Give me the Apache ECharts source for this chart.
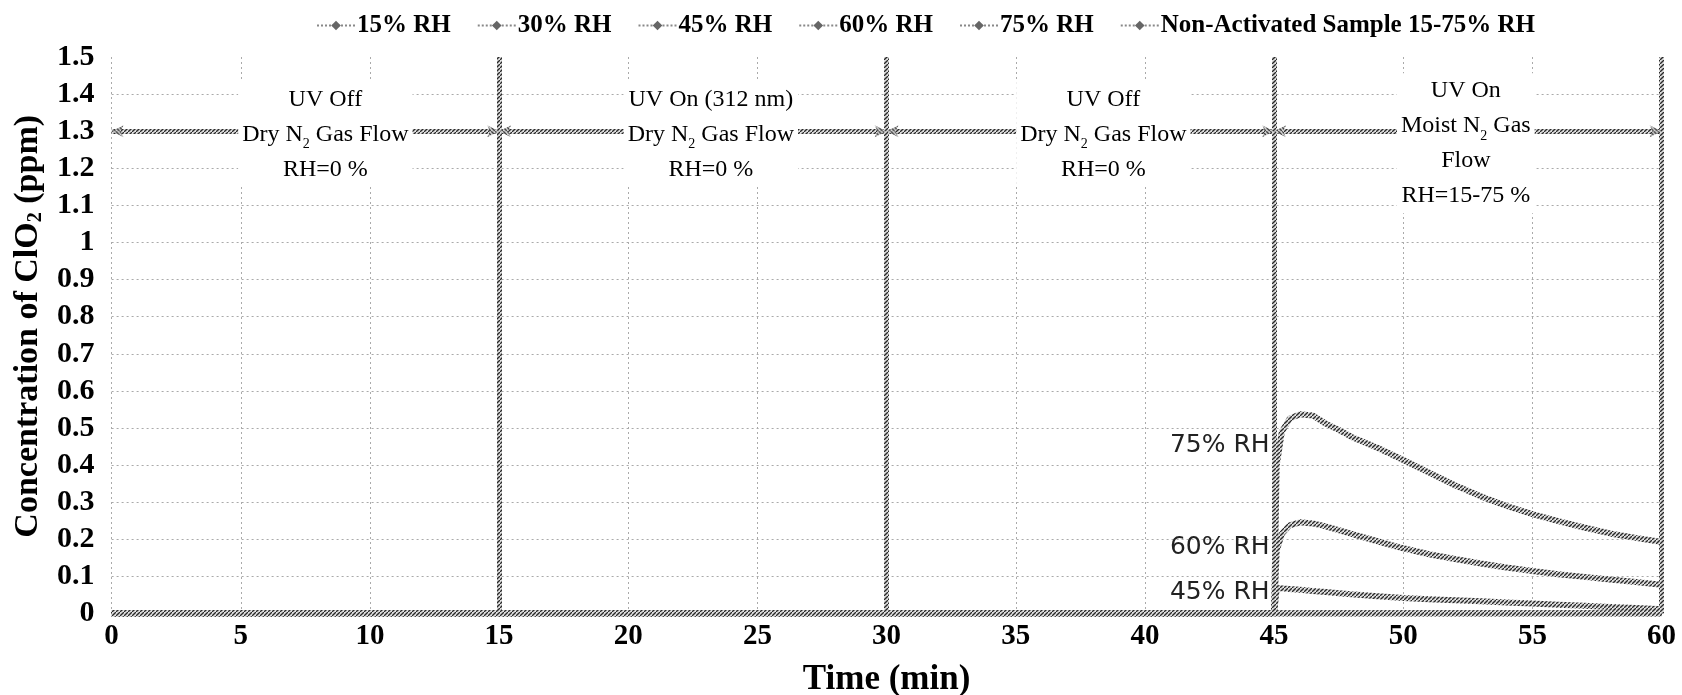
<!DOCTYPE html>
<html><head><meta charset="utf-8">
<script src="https://cdn.jsdelivr.net/npm/echarts@6/dist/echarts.min.js"></script>
<style>html,body{margin:0;padding:0;background:#fff}#c{width:1682px;height:695px}</style>
</head><body><div id="c"></div>
<script>
// ---- data ----
const times = [0, 15, 30, 45, 45.1, 45.3, 45.6, 46, 46.5, 47, 47.5, 48, 49, 50, 51, 52, 53, 54, 55, 56, 57, 58, 59, 60];
const rh15  = [0, 0, 0, 0, 0, 0, 0, 0, 0, 0, 0, 0, 0, 0, 0, 0, 0, 0, 0, 0, 0, 0, 0, 0];
const rh30  = [0, 0, 0, 0, 0, 0, 0, 0, 0, 0, 0, 0, 0, 0, 0, 0, 0, 0, 0, 0, 0, 0, 0, 0];
const rh45  = [0, 0, 0, 0, 0.068, 0.068, 0.066, 0.064, 0.061, 0.058, 0.055, 0.052, 0.047, 0.042, 0.039, 0.036, 0.033, 0.030, 0.027, 0.024, 0.021, 0.018, 0.015, 0.012];
const rh60  = [0, 0, 0, 0, 0.17, 0.215, 0.238, 0.246, 0.243, 0.235, 0.225, 0.215, 0.195, 0.176, 0.160, 0.147, 0.135, 0.124, 0.115, 0.106, 0.099, 0.092, 0.085, 0.078];
const rh75  = [0, 0, 0, 0, 0.40, 0.49, 0.525, 0.537, 0.534, 0.512, 0.495, 0.476, 0.447, 0.414, 0.38, 0.346, 0.316, 0.29, 0.268, 0.249, 0.232, 0.216, 0.204, 0.193];
const nonActivated = [0, 0, 0, 0, 0, 0, 0, 0, 0, 0, 0, 0, 0, 0, 0, 0, 0, 0, 0, 0, 0, 0, 0, 0];
const seriesNames = ['15% RH', '30% RH', '45% RH', '60% RH', '75% RH', 'Non-Activated Sample 15-75% RH'];
const yTickLabels = ['0','0.1','0.2','0.3','0.4','0.5','0.6','0.7','0.8','0.9','1','1.1','1.2','1.3','1.4','1.5'];
const phaseBounds = [0, 15, 30, 45, 60];
const phaseTexts = [
  'UV Off\nDry N{sub|2} Gas Flow\nRH=0 %',
  'UV On (312 nm)\nDry N{sub|2} Gas Flow\nRH=0 %',
  'UV Off\nDry N{sub|2} Gas Flow\nRH=0 %',
  'UV On\nMoist N{sub|2} Gas\nFlow\nRH=15-75 %'
];
const arrowLevel = 1.3;
const curveLabelTexts = ['75% RH', '60% RH', '45% RH'];
const curveLabelLevels = [0.452, 0.178, 0.058];
const curveLabelTime = 45;

// ---- styles ----
const SERIF = '"Liberation Serif", "Times New Roman", serif';
function hatch() {
  const c = document.createElement('canvas');
  c.width = 4; c.height = 4;
  const g = c.getContext('2d');
  g.fillStyle = '#dcdcdc'; g.fillRect(0, 0, 4, 4);
  g.strokeStyle = '#2a2a2a'; g.lineWidth = 1.3;
  g.beginPath(); g.moveTo(-1, 5); g.lineTo(5, -1); g.stroke();
  return c;
}
const hatchPattern = { image: hatch(), repeat: 'repeat' };

const allValues = [rh15, rh30, rh45, rh60, rh75, nonActivated];
const dataSeries = seriesNames.map((name, i) => ({
  name, type: 'line', z: 3,
  data: times.map((t, k) => [t, allValues[i][k]]),
  symbol: 'diamond', symbolSize: 9, showSymbol: false,
  lineStyle: { color: hatchPattern, width: 6 },
  itemStyle: { color: '#777' },
  emphasis: { disabled: true },
  animation: false
}));

const phaseOffsets = [[20, 3], [18, 3], [23, 3], [-2, 12]];
const helperLines = {
  name: '_lines', type: 'line', data: [], z: 2, animation: false,
  markLine: {
    silent: true, animation: false,
    label: { show: false },
    data: [
      ...phaseBounds.slice(1).map(b => [{ coord: [b, 0], symbol: 'none' }, { coord: [b, 1.5], symbol: 'none' }]),
      ...phaseBounds.slice(0, -1).map((b, i) => [{ coord: [b, arrowLevel] }, { coord: [phaseBounds[i + 1], arrowLevel] }])
    ],
    symbol: ['arrow', 'arrow'], symbolSize: [9, 12],
    lineStyle: { color: hatchPattern, width: 5, type: 'solid', opacity: 1 },
    itemStyle: { color: '#888' }
  }
};
const helperText = {
  name: '_text', type: 'line', data: [], z: 5, animation: false,
  markPoint: {
    silent: true, animation: false,
    symbol: 'rect', symbolSize: 1, itemStyle: { color: 'rgba(0,0,0,0)' },
    data: [
      ...phaseTexts.map((txt, i) => ({
        coord: [(phaseBounds[i] + phaseBounds[i + 1]) / 2, arrowLevel],
        label: {
          show: true, position: 'inside', formatter: txt, offset: phaseOffsets[i],
          backgroundColor: '#fff', padding: [0, 4],
          fontFamily: SERIF, fontSize: 24, lineHeight: 35, color: '#000', align: 'center',
          rich: { sub: { fontFamily: SERIF, fontSize: 14, lineHeight: 35, verticalAlign: 'bottom', color: '#000' } }
        }
      })),
      ...curveLabelTexts.map((txt, i) => ({
        coord: [curveLabelTime, curveLabelLevels[i]],
        label: {
          show: true, position: 'left', distance: 4, formatter: txt,
          fontFamily: '"DejaVu Sans", sans-serif', fontSize: 25, color: '#222'
        }
      }))
    ]
  }
};

const chart = echarts.init(document.getElementById('c'), null, { renderer: 'canvas' });
chart.setOption({
  backgroundColor: '#fff',
  animation: false,
  legend: {
    data: seriesNames, top: 8, left: 311,
    itemWidth: 38, itemHeight: 12, itemGap: 26,
    textStyle: { fontFamily: SERIF, fontWeight: 'bold', fontSize: 25, color: '#000', padding: [0, 0, 0, -3] },
    lineStyle: { color: '#888', width: 2, type: 'dotted' },
    itemStyle: { color: '#666' }
  },
  grid: { left: 111.6, right: 20.4, top: 57, bottom: 81.4, containLabel: false, outerBoundsMode: 'none' },
  xAxis: {
    type: 'value', min: 0, max: 60, interval: 5,
    axisLine: { show: false }, axisTick: { show: false },
    axisLabel: { fontFamily: SERIF, fontWeight: 'bold', fontSize: 29, color: '#000', margin: 8 },
    splitLine: { show: true, lineStyle: { color: '#aaa', width: 1, type: [2, 3] } },
    name: 'Time (min)', nameLocation: 'middle', nameGap: 49,
    nameTextStyle: { fontFamily: SERIF, fontWeight: 'bold', fontSize: 35, color: '#000' }
  },
  yAxis: {
    type: 'value', min: 0, max: 1.5, interval: 0.1,
    axisLine: { show: false }, axisTick: { show: false },
    axisLabel: {
      fontFamily: SERIF, fontWeight: 'bold', fontSize: 30, color: '#000', margin: 17,
      formatter: v => yTickLabels[Math.round(v * 10)]
    },
    splitLine: { show: true, showMaxLine: false, lineStyle: { color: '#aaa', width: 1, type: [2, 3] } },
    name: 'Concentration of ClO{sub|2} (ppm)', nameLocation: 'middle', nameRotate: 90, nameGap: 64,
    nameTextStyle: {
      fontFamily: SERIF, fontWeight: 'bold', fontSize: 34, color: '#000', padding: [0, 0, 0, 18],
      rich: { sub: { fontFamily: SERIF, fontWeight: 'bold', fontSize: 20, color: '#000', verticalAlign: 'bottom', lineHeight: 36 } }
    }
  },
  series: [...dataSeries, helperLines, helperText]
});
</script>
</body></html>
